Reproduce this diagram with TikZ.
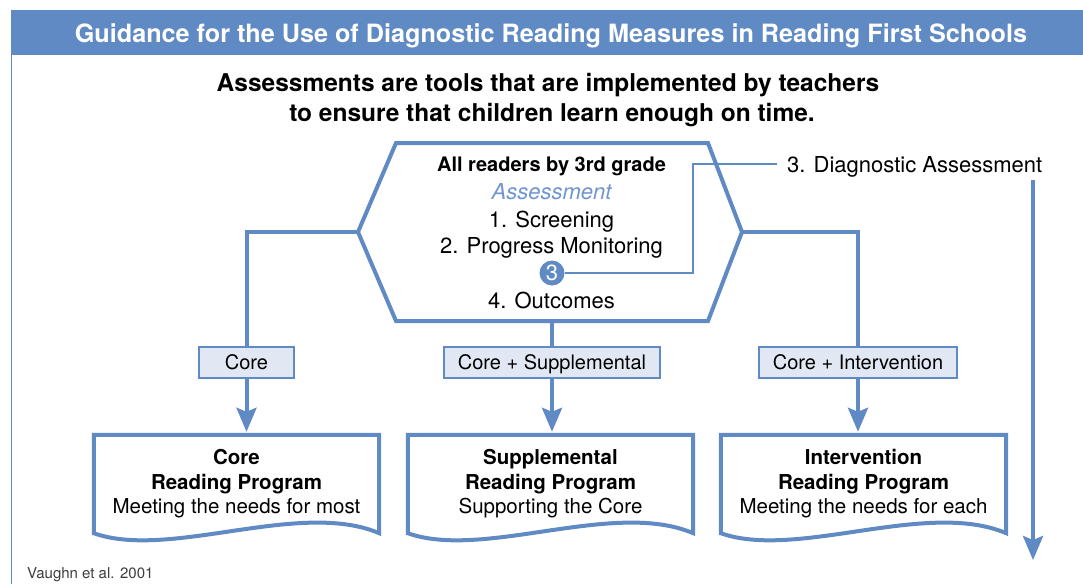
\documentclass[tikz,border=0pt]{standalone}
\usepackage{fontspec}
\setmainfont{TeX Gyre Heros}
\usetikzlibrary{arrows.meta,calc}
\definecolor{rfblue}{RGB}{96,138,196}
\definecolor{rflight}{RGB}{226,232,243}
\definecolor{rfital}{RGB}{112,150,210}
\definecolor{rfgray}{RGB}{60,60,60}
\begin{document}
\begin{tikzpicture}[x=1pt,y=-1pt,
		flow/.style={draw=rfblue,line width=4pt},
		flowtip/.style={-{Stealth[length=24pt,width=20pt,inset=4pt]}},
		link/.style={draw=rfblue,line width=1.5pt},
		lbl/.style={draw=rfblue,line width=1.5pt,fill=rflight,minimum height=31pt,
			minimum width=95pt,inner xsep=14pt,text height=14.5pt,text depth=0pt,
			font=\fontsize{20}{24}\selectfont},
		docbox/.style={minimum width=285pt,minimum height=98pt,inner sep=0pt,
			align=center,font=\fontsize{20.5}{24.5}\selectfont},
		hextext/.style={anchor=base,inner sep=0pt,font=\fontsize{22}{26}\selectfont}]
	\useasboundingbox (0,0) rectangle (1083,584);
	\fill[rfblue] (11,10) rectangle (1083,55);
	\draw[rfblue,line width=1.5pt] (11.5,584) -- (11.5,10.5) -- (1083,10.5);
	\node[anchor=base,text=white,font=\fontsize{25.2}{30}\selectfont\bfseries] (title) at (551,42)
		{Guidance for the Use of Diagnostic Reading Measures in Reading First Schools};
	\node[anchor=base,inner sep=0pt,font=\fontsize{24.5}{30}\selectfont\bfseries] (sub1) at (548,91)
		{Assessments are tools that are implemented by teachers};
	\node[anchor=base,inner sep=0pt,font=\fontsize{24.5}{30}\selectfont\bfseries] (sub2) at (552,121)
		{to ensure that children learn enough on time.};

	\coordinate (hexL) at (358,232);
	\coordinate (hexR) at (742,232);
	\coordinate (hexB) at (552,321);
	\draw[flow,line join=miter] (hexL) -- (396,143) -- (708,143) -- (hexR)
		-- (708,321) -- (396,321) -- cycle;
	\node[anchor=base,inner sep=0pt,font=\fontsize{20}{24}\selectfont\bfseries] (allread) at (551.5,171.5)
		{All readers by 3rd grade};
	\node[hextext,text=rfital] (assess) at (551.5,199) {\itshape Assessment};
	\node[hextext] (screen) at (551.5,227) {1. Screening};
	\node[hextext] (progress) at (551.5,253.5) {2. Progress Monitoring};
	\node[circle,fill=rfblue,minimum size=25pt,inner sep=0pt,text=white,
		font=\fontsize{22}{22}\selectfont] (three) at (552,273) {3};
	\node[hextext] (outcomes) at (551.5,308) {4. Outcomes};

	\node[anchor=base west,inner sep=0pt,font=\fontsize{22}{26}\selectfont] (diag) at (787,172)
		{3. Diagnostic Assessment};
	\coordinate (bend) at (693,164);
	\coordinate (diagin) at (777,164);
	\draw[link] (three.east) -| (bend) -- (diagin);
	\coordinate (dtop) at (1033,180);
	\coordinate (dend) at (1033,560);
	\draw[flow,flowtip] (dtop) -- (dend);

	\node[lbl] (lblcore) at (246.5,362.5) {Core};
	\node[lbl] (lblsupp) at (552,362.5) {Core + Supplemental};
	\node[lbl] (lblint) at (858,362.5) {Core + Intervention};

	\node[docbox] (doccore) at (236.5,484) {\textbf{Core}\\\textbf{Reading Program}\\Meeting the needs for most};
	\node[docbox] (docsupp) at (550.5,484) {\textbf{Supplemental}\\\textbf{Reading Program}\\Supporting the Core};
	\node[docbox] (docint) at (863.5,484) {\textbf{Intervention}\\\textbf{Reading Program}\\Meeting the needs for each};
	\draw[flow,line join=miter] (doccore.south west) -- (doccore.north west) -- (doccore.north east)
		-- (doccore.south east) .. controls +(-80,-34) and +(76,27) .. (doccore.south west) -- cycle;
	\draw[flow,line join=miter] (docsupp.south west) -- (docsupp.north west) -- (docsupp.north east)
		-- (docsupp.south east) .. controls +(-80,-34) and +(76,27) .. (docsupp.south west) -- cycle;
	\draw[flow,line join=miter] (docint.south west) -- (docint.north west) -- (docint.north east)
		-- (docint.south east) .. controls +(-80,-34) and +(76,27) .. (docint.south west) -- cycle;

	\draw[flow] (hexL) -| (lblcore.north);
	\draw[flow] (hexB) -- (lblsupp.north);
	\draw[flow] (hexR) -| (lblint.north);
	\draw[flow,flowtip,shorten >=3pt] (lblcore.south) -- (lblcore.south |- doccore.north);
	\draw[flow,flowtip,shorten >=3pt] (lblsupp.south) -- (lblsupp.south |- docsupp.north);
	\draw[flow,flowtip,shorten >=3pt] (lblint.south) -- (lblint.south |- docint.north);

	\node[anchor=base west,inner sep=0pt,text=rfgray,font=\fontsize{15}{18}\selectfont] (source) at (27,578.5)
		{Vaughn et al. 2001};
\end{tikzpicture}
\end{document}
